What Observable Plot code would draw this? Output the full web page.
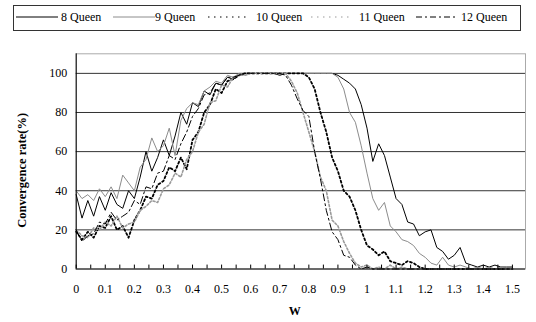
<!DOCTYPE html>
<html><head><meta charset="utf-8">
<script src="https://cdn.jsdelivr.net/npm/d3@7"></script>
<script src="https://cdn.jsdelivr.net/npm/@observablehq/plot@0.6"></script>
<style>
body{margin:0;background:#fff;font-family:"Liberation Serif","Times New Roman",Times,serif;}
#wrap{position:relative;width:536px;height:322px;background:#fff;}
#legend{position:absolute;left:13px;top:5px;width:506px;height:24px;border:1px solid #333;font-size:12px;color:#000;font-family:"Liberation Serif","Times New Roman",Times,serif;}
.sw{position:absolute;top:6px;}
.lt{position:absolute;top:4px;line-height:14px;white-space:nowrap;}
#chart{position:absolute;left:0;top:36px;}
#chart svg text{font-family:"Liberation Serif","Times New Roman",Times,serif;}
</style></head>
<body><div id="wrap"><div id="legend"></div><div id="chart"></div></div>
<script>
const W = [0,0.02,0.04,0.06,0.08,0.10,0.12,0.14,0.16,0.18,
0.20,0.22,0.24,0.26,0.28,0.30,0.32,0.34,0.36,0.38,
0.40,0.42,0.44,0.46,0.48,0.50,0.52,0.54,0.56,0.58,
0.60,0.62,0.64,0.66,0.68,0.70,0.72,0.74,0.76,0.78,
0.80,0.82,0.84,0.86,0.88,0.90,0.92,0.94,0.96,0.98,
1.00,1.02,1.04,1.06,1.08,1.10,1.12,1.14,1.16,1.18,
1.20,1.22,1.24,1.26,1.28,1.30,1.32,1.34,1.36,1.38,
1.40,1.42,1.44,1.46,1.48,1.50];

const q8 = [38,26,35,27,37,30,39,33,31,40,
36,47,60,50,57,66,58,68,80,74,
85,83,91,89,95,94,98,97,99,100,
100,100,100,100,100,99,100,100,100,100,
100,100,100,100,100,99,97,95,92,84,
72,55,64,58,47,36,33,24,23,17,
19,20,11,9,5,7,11,3,2,1,
2,1,2,1,1,1];

const q9 = [40,36,38,35,41,37,42,36,48,44,
40,52,56,67,60,63,72,58,76,82,
85,84,91,93,96,95,99,98,100,100,
100,100,100,100,100,100,100,100,100,100,
100,100,100,100,100,98,92,80,75,63,
49,36,30,34,22,19,15,14,12,8,
6,3,2,6,2,1,2,1,0,1,
0,1,0,1,0,0];

const q10 = [19,15,19,16,22,21,27,20,22,16,
25,30,37,36,43,45,52,50,57,51,
66,70,80,84,92,90,96,97,99,100,
100,100,100,100,100,100,100,100,100,100,
98,92,80,70,57,50,40,37,30,20,
12,10,7,9,4,3,2,4,3,1,
0,0,0,0,0,0,0,0,0,0,
0,0,0,0,0,0];

const q11 = [20,17,16,21,20,24,22,27,21,23,
24,30,32,35,34,41,43,49,47,56,
60,70,74,85,86,94,93,98,99,99,
100,100,100,100,100,100,100,96,90,80,
70,60,47,40,25,22,14,8,3,1,
2,0,1,0,2,0,1,0,0,0,
0,0,0,0,0,0,0,0,0,0,
0,0,0,0,0,0];

const q12 = [20,14,17,18,24,23,29,25,27,29,
35,33,42,41,49,50,58,56,64,70,
78,82,89,90,95,94,98,98,99,100,
100,100,100,100,100,100,99,94,87,81,
78,60,46,30,19,15,7,6,2,0,
1,0,0,0,0,0,0,0,0,0,
0,0,0,0,0,0,0,0,0,0,
0,0,0,0,0,0];

const seriesNames = ["8 Queen","9 Queen","10 Queen","11 Queen","12 Queen"];
const xLabelTicks = [0,0.1,0.2,0.3,0.4,0.5,0.6,0.7,0.8,0.9,1,1.1,1.2,1.3,1.4,1.5];
const xTickMarks = [0,0.05,0.1,0.15,0.2,0.25,0.3,0.35,0.4,0.45,0.5,0.55,0.6,0.65,0.7,0.75,0.8,0.85,0.9,0.95,1,1.05,1.1,1.15,1.2,1.25,1.3,1.35,1.4,1.45,1.5];
const yTicks = [0,20,40,60,80,100];
const gridY = [20,40,60,80,100];

const styles = [
  {stroke:"#000", strokeWidth:1, dash:null},
  {stroke:"#8c8c8c", strokeWidth:1, dash:null},
  {stroke:"#000", strokeWidth:1.8, dash:"2,2.5"},
  {stroke:"#9a9a9a", strokeWidth:1.6, dash:"2,2"},
  {stroke:"#000", strokeWidth:1, dash:"7,3,2,3"}
];
const values = [q8,q9,q10,q11,q12];
const tables = values.map((arr, k) => arr.map((v, i) => ({w: W[i], v, s: seriesNames[k]})));

// legend
const legend = document.getElementById("legend");
const swX = [2, 99, 194, 297, 402];
const txX = [47, 141, 242, 345, 447];
seriesNames.forEach((name, k) => {
  const st = styles[k];
  const sv = document.createElementNS("http://www.w3.org/2000/svg","svg");
  sv.setAttribute("width", 42); sv.setAttribute("height", 10);
  sv.setAttribute("class","sw");
  sv.style.left = swX[k] + "px";
  const ln = document.createElementNS("http://www.w3.org/2000/svg","line");
  ln.setAttribute("x1",0); ln.setAttribute("x2",42); ln.setAttribute("y1",5); ln.setAttribute("y2",5);
  ln.setAttribute("stroke", st.stroke);
  ln.setAttribute("stroke-width", k===2||k===3 ? 1.2 : 1);
  if (st.dash) ln.setAttribute("stroke-dasharray", k===2||k===3 ? "1.5,4.5" : "6,3,2,3");
  sv.appendChild(ln);
  legend.appendChild(sv);
  const t = document.createElement("span");
  t.className = "lt"; t.textContent = name; t.style.left = txX[k] + "px";
  legend.appendChild(t);
});

const lineMarks = tables.map((t, k) => Plot.line(t, {
  x: "w", y: "v",
  stroke: styles[k].stroke, strokeWidth: styles[k].strokeWidth,
  strokeDasharray: styles[k].dash, strokeLinejoin: "round"
}));

const chart = Plot.plot({
  width: 536, height: 286,
  marginLeft: 75.7, marginRight: 11, marginTop: 17.3, marginBottom: 53.5,
  x: {domain: [0, 1.545]},
  y: {domain: [0, 110]},
  style: {fontFamily: "'Liberation Serif','Times New Roman',Times,serif", fontSize: "12px", color: "#000", background: "#fff", overflow: "visible"},
  marks: [
    Plot.frame({stroke: "#aaa"}),
    Plot.ruleY(gridY, {stroke: "#333", strokeWidth: 1}),
    ...lineMarks,
    Plot.ruleX(xTickMarks, {x: d => d, y1: 0, y2: 2, stroke: "#000"}),
    Plot.ruleX([0], {stroke: "#000"}),
    Plot.ruleY([0], {stroke: "#000"}),
    Plot.axisX(xLabelTicks, {tickSize: 0, tickPadding: 15, tickFormat: d => String(+d.toFixed(1)), label: null, fontSize: 12}),
    Plot.axisY(yTicks, {tickSize: 0, tickPadding: 9, label: null, fontSize: 12}),
    Plot.text(["Convergence rate(%)"], {frameAnchor: "left", textAnchor: "middle", dx: -54, dy: 9, rotate: -90, fontWeight: "bold", fontSize: 12.5}),
    Plot.text(["W"], {frameAnchor: "bottom", textAnchor: "middle", dx: -6, dy: 45.5, fontWeight: "bold", fontSize: 12})
  ]
});
document.getElementById("chart").appendChild(chart);
</script>
</body></html>
